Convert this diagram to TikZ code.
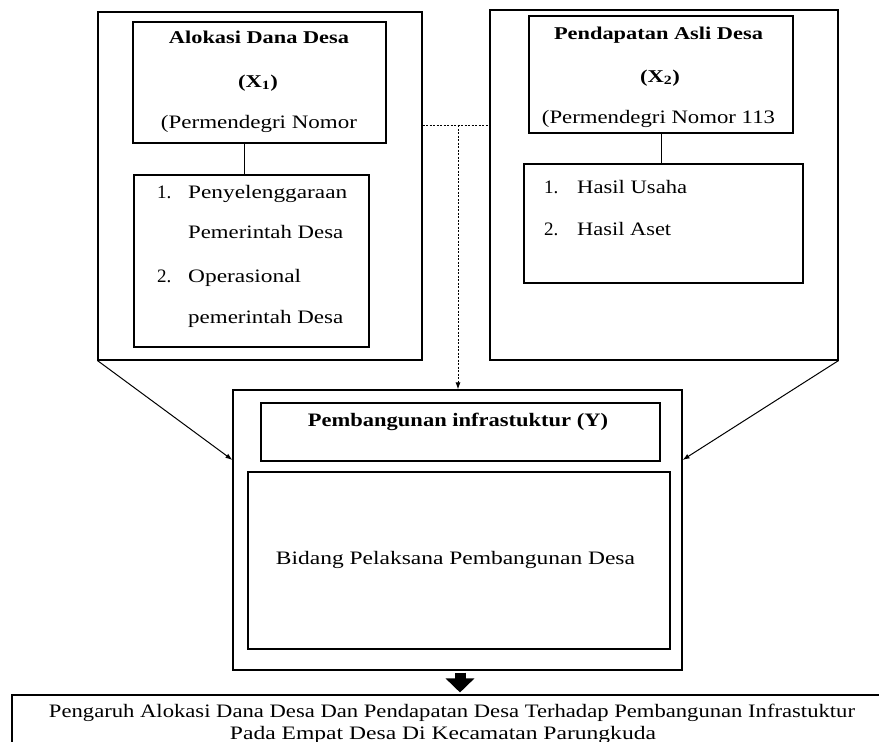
\documentclass[tikz,border=0pt]{standalone}
\usepackage{fontspec}
\setmainfont{Liberation Serif}
\usetikzlibrary{arrows.meta}
\newcommand{\fw}[2]{\resizebox{#1pt}{\height}{#2}}
\begin{document}
\begin{tikzpicture}[x=1pt,y=-1pt,
  box/.style={draw, line width=1.1pt, inner sep=0pt},
  txt/.style={inner sep=0pt, anchor=base, font=\fontsize{19}{22}\selectfont},
  txtl/.style={txt, anchor=base west},
  ttl/.style={txt, font=\fontsize{18}{21}\selectfont\bfseries},
  conn/.style={line width=1pt},
  dsh/.style={line width=1pt, dash pattern=on 2pt off 1.5pt},
  arr/.style={-{Latex[length=7pt,width=5pt]}}]
\clip (0,0) rectangle (879,742);
% boxes
\node[box, minimum width=324pt, minimum height=348pt] (L) at (260,186) {};
\node[box, minimum width=253pt, minimum height=121pt] (LT) at (259.5,82.5) {};
\node[box, minimum width=235pt, minimum height=172pt] (LL) at (251.5,261) {};
\node[box, minimum width=348pt, minimum height=350pt] (R) at (664,185) {};
\node[box, minimum width=264pt, minimum height=117pt] (RT) at (661,74.5) {};
\node[box, minimum width=279pt, minimum height=119pt] (RL) at (663.5,223.5) {};
\node[box, minimum width=449pt, minimum height=280pt] (Y) at (457.5,530) {};
\node[box, minimum width=399pt, minimum height=58pt] (YT) at (460.5,432) {};
\node[box, minimum width=422pt, minimum height=177pt] (YC) at (459,560.5) {};
\node[box, minimum width=888pt, minimum height=65pt] (B) at (456,727.5) {};
% left texts
\node[ttl] (t1) at (259,43) {\fw{180}{Alokasi Dana Desa}};
\node[ttl] (t2) at (258,87) {\fw{40}{(X\textsubscript{1})}};
\node[txt] (t3) at (259,128) {\fw{196}{(Permendegri Nomor}};
\node[txtl] (n1) at (157,198) {1.};
\node[txtl] (l1) at (188,198) {\fw{159}{Penyelenggaraan}};
\node[txtl] (l2) at (188,238) {\fw{155}{Pemerintah Desa}};
\node[txtl] (n2) at (157,282) {2.};
\node[txtl] (l3) at (188,282) {\fw{113}{Operasional}};
\node[txtl] (l4) at (188,323) {\fw{155}{pemerintah Desa}};
% right texts
\node[ttl] (r1) at (658.5,39) {\fw{209}{Pendapatan Asli Desa}};
\node[ttl] (r2) at (660,82) {\fw{40}{(X\textsubscript{2})}};
\node[txt] (r3) at (658.5,123) {\fw{233}{(Permendegri Nomor 113}};
\node[txtl] (m1) at (544,193) {1.};
\node[txtl] (k1) at (577,193) {\fw{110}{Hasil Usaha}};
\node[txtl] (m2) at (544,235) {2.};
\node[txtl] (k2) at (577,235) {\fw{94}{Hasil Aset}};
% Y texts
\node[ttl, font=\fontsize{19}{22}\selectfont\bfseries] (y1) at (458,426) {\fw{300}{Pembangunan infrastuktur (Y)}};
\node[txt] (y2) at (455.5,564) {\fw{359}{Bidang Pelaksana Pembangunan Desa}};
% bottom texts
\node[txt] (b1) at (452,717) {\fw{806}{Pengaruh Alokasi Dana Desa Dan Pendapatan Desa Terhadap Pembangunan Infrastuktur}};
\node[txt] (b2) at (443,739) {\fw{426}{Pada Empat Desa Di Kecamatan Parungkuda}};
% connectors
\draw[conn] ([xshift=-15.5pt]LT.south) -- ([xshift=-15.5pt]LT.south |- LL.north);
\draw[conn] (RT.south) -- (RT.south |- RL.north);
\draw[line width=1.8pt] ([yshift=1pt]LL.west) -- ([yshift=28pt]LL.west);
\coordinate (dl) at ([yshift=61pt]L.east);
\coordinate (dj) at (458,125);
\draw[dsh] (dl) -- (dl -| R.west);
\draw[dsh, arr] (dj) -- (dj |- Y.north);
\draw[conn, arr] (L.south west) -- ([yshift=70pt]Y.west);
\draw[conn, arr] (R.south east) -- ([yshift=70pt]Y.east);
\draw[line width=11pt, -{Triangle[width=28pt,length=14pt]}] ([xshift=2.5pt,yshift=-2pt]Y.south) -- ([xshift=2.5pt,yshift=2pt]Y.south |- B.north);
\end{tikzpicture}
\end{document}
